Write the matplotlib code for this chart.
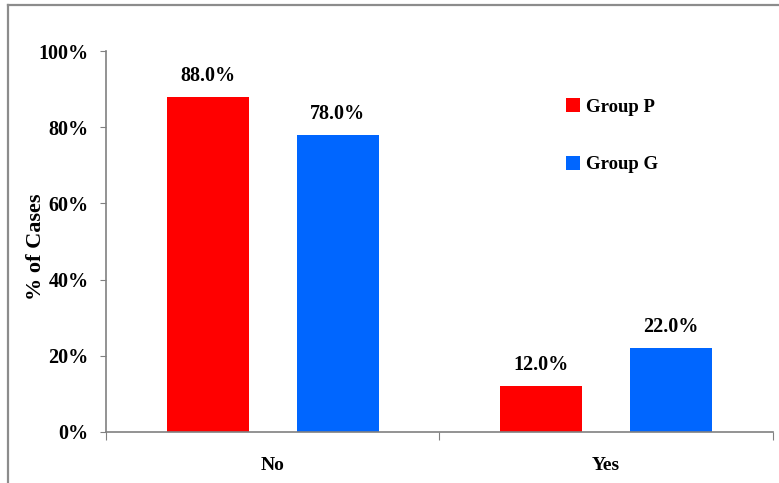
import matplotlib
matplotlib.use("Agg")
import matplotlib.pyplot as plt
import numpy as np
from matplotlib.lines import Line2D
from matplotlib.patches import Patch

categories = ["No", "Yes"]
group_labels = ["Group P", "Group G"]
group_p = [88.0, 12.0]
group_g = [78.0, 22.0]
colors = ["#FF0000", "#0066FF"]

plt.rcParams["font.family"] = ["Liberation Serif", "DejaVu Serif"]
plt.rcParams["font.weight"] = "bold"

fig = plt.figure(figsize=(7.79, 4.83), dpi=100, facecolor="white")
ax = fig.add_axes([0.136, 0.1056, 0.856, 0.7888])

x = np.arange(len(categories))
width = 0.246
off = 0.195
series = [group_p, group_g]
for i, (vals, lab, col) in enumerate(zip(series, group_labels, colors)):
    pos = x + (-off if i == 0 else off)
    bars = ax.bar(pos, vals, width, color=col, label=lab, zorder=2)
    for b, v in zip(bars, vals):
        ax.annotate(f"{v:.1f}%", xy=(b.get_x() + b.get_width() / 2, v),
                    xytext=(0, 8), textcoords="offset points",
                    ha="center", va="bottom", fontsize=14.5, fontweight="bold")

ax.set_xlim(-0.5, 1.5)
ax.set_ylim(0, 100)
ax.set_yticks(np.arange(0, 101, 20))
ax.set_yticklabels([f"{v}%" for v in range(0, 101, 20)], fontsize=14.5, fontweight="bold")
ax.set_xticks([-0.5, 0.5, 1.5])
ax.set_xticklabels([])
ax.set_xticks(x, minor=True)
ax.set_xticklabels(categories, minor=True, fontsize=14, fontweight="bold")
ax.tick_params(axis="x", which="major", length=6, color="#808080", direction="out")
ax.tick_params(axis="x", which="minor", length=0, pad=18)
ax.tick_params(axis="y", length=4.5, color="#808080", pad=8)
ax.set_ylabel("% of Cases", fontsize=16, fontweight="bold")
ax.yaxis.set_label_coords(-0.09, 0.485)

for s in ["top", "right"]:
    ax.spines[s].set_visible(False)
for s in ["left", "bottom"]:
    ax.spines[s].set_color("#808080")
    ax.spines[s].set_linewidth(1.2)

handles = [Patch(facecolor=c, edgecolor="none") for c in colors]
ax.legend(handles, group_labels, loc="upper left", bbox_to_anchor=(0.665, 0.92),
          frameon=False, handlelength=0.75, handleheight=0.75,
          handletextpad=0.3, labelspacing=2.15, prop={"weight": "bold", "size": 13.5})

# outer frame
fig.add_artist(Line2D([8 / 779, 8 / 779], [0, 1 - 5 / 483], transform=fig.transFigure,
                      color="#8c8c8c", linewidth=1.6))
fig.add_artist(Line2D([8 / 779, 1], [1 - 5 / 483, 1 - 5 / 483], transform=fig.transFigure,
                      color="#8c8c8c", linewidth=1.6))

fig.savefig("out.png", dpi=100, facecolor="white")
